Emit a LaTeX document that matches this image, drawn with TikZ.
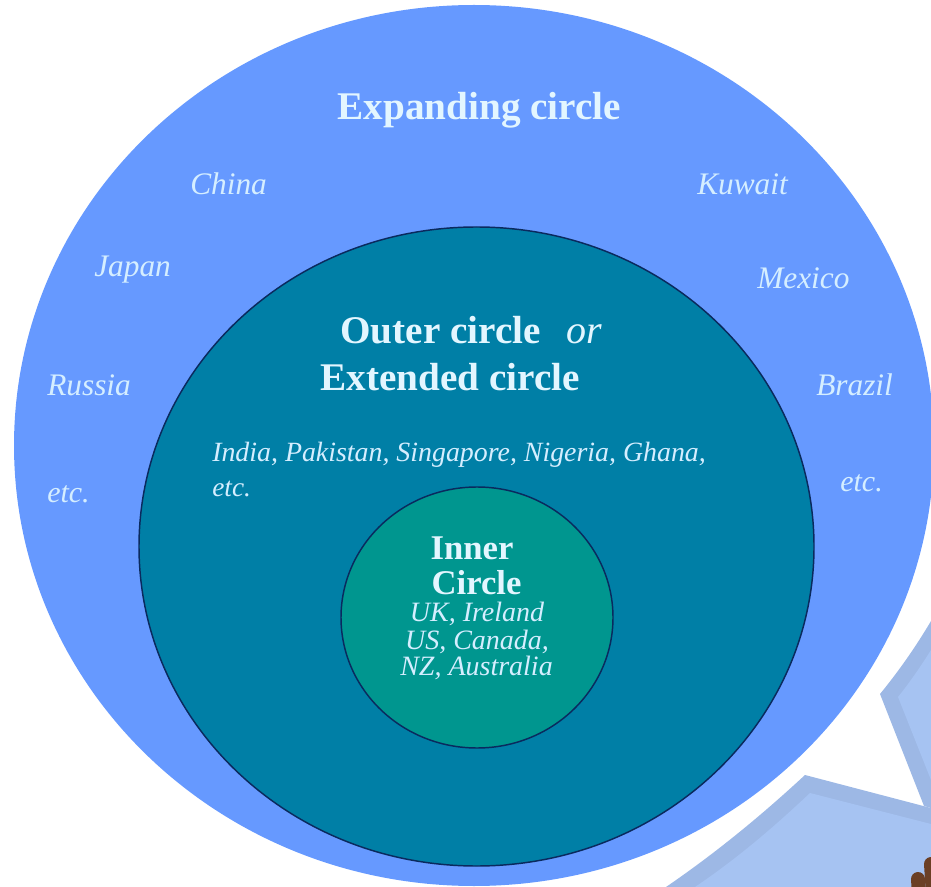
\documentclass[tikz,border=0pt]{standalone}
\usepackage{fontspec}
\setmainfont{Liberation Serif}
\definecolor{outerblue}{HTML}{6699FF}
\definecolor{midteal}{HTML}{007FA6}
\definecolor{innerteal}{HTML}{00968F}
\definecolor{ringline}{HTML}{0A2A5E}
\definecolor{bubblefill}{HTML}{A6C3F2}
\definecolor{bubbleband}{HTML}{9DB8E5}
\definecolor{handbrown}{HTML}{6B3F25}
\definecolor{labelpale}{HTML}{E3F6FF}
\definecolor{labelcountry}{HTML}{D5EEFF}
\tikzset{
  x=0.75pt,y=-0.75pt,
  headlabel/.style={text=labelpale,font=\fontsize{29.4}{33}\selectfont\bfseries,inner sep=0pt,align=center,anchor=base},
  countrylabel/.style={text=labelcountry,font=\fontsize{23.5}{27}\selectfont\itshape,inner sep=0pt,anchor=base west},
  ring/.style={draw=ringline,line width=1.1pt}
}
\begin{document}
\begin{tikzpicture}
\useasboundingbox (0,0) rectangle (931,887);
\begin{scope}
\clip (0,0) rectangle (931,887);
% speech bubbles
\fill[bubbleband] (666,887) .. controls (720,850) and (765,812) .. (805,775) -- (931,808) -- (931,887) -- cycle;
\fill[bubbleband] (931,621) .. controls (915,648) and (898,672) .. (880,694) -- (924,806) -- (931,808) -- cycle;
\fill[bubblefill] (695,887) .. controls (738,858) and (775,826) .. (810,793) -- (931,824) -- (931,887) -- cycle;
\fill[bubblefill] (931,650) .. controls (921,666) and (910,682) .. (898,697) -- (931,780) -- cycle;
% hand
\draw[handbrown,line width=10.5pt,line cap=round] (919,895) -- (918,879);
\draw[handbrown,line width=10.5pt,line cap=round] (933,895) -- (931,864);
% circles
\fill[outerblue] (474,445.5) ellipse [x radius=460,y radius=440.5];
\draw[ring,fill=midteal] (476.5,546.5) ellipse [x radius=337.5,y radius=319.5];
\draw[ring,fill=innerteal] (477,617.5) ellipse [x radius=136,y radius=130.5];
\end{scope}
\node[headlabel] (expanding) at (479.5,120) {Expanding circle};
\node[countrylabel] (china) at (190,195) {China};
\node[countrylabel] (japan) at (94,277) {Japan};
\node[countrylabel] (russia) at (47,396) {Russia};
\node[countrylabel,font=\fontsize{22.5}{27}\selectfont\itshape] (etcl) at (47,502) {etc.};
\node[countrylabel] (kuwait) at (697,195) {Kuwait};
\node[countrylabel] (mexico) at (757,289) {Mexico};
\node[countrylabel] (brazil) at (816,396) {Brazil};
\node[countrylabel,font=\fontsize{22.5}{27}\selectfont\itshape] (etcr) at (840,491) {etc.};
\node[headlabel,anchor=base west] (outer) at (340,344) {Outer circle};
\node[countrylabel,text=labelpale,font=\fontsize{30}{33}\selectfont\itshape] (orword) at (566,344) {or};
\node[headlabel,anchor=base west] (extended) at (320,391) {Extended circle};
\node[countrylabel,font=\fontsize{20.9}{25}\selectfont\itshape] (india) at (212,461) {India, Pakistan, Singapore, Nigeria, Ghana,};
\node[countrylabel,font=\fontsize{20.5}{25}\selectfont\itshape] (etcm) at (212,496) {etc.};
\node[headlabel,font=\fontsize{26}{26}\selectfont\bfseries] (inner) at (472,559) {Inner};
\node[headlabel,font=\fontsize{26}{26}\selectfont\bfseries] (circleword) at (476.5,594) {Circle};
\node[countrylabel,anchor=base,font=\fontsize{21}{25}\selectfont\itshape] (innerlista) at (477,621) {UK, Ireland};
\node[countrylabel,anchor=base,font=\fontsize{21}{25}\selectfont\itshape] (innerlistb) at (477,649) {US, Canada,};
\node[countrylabel,anchor=base,font=\fontsize{21}{25}\selectfont\itshape] (innerlistc) at (476.5,675) {NZ, Australia};
\end{tikzpicture}
\end{document}
